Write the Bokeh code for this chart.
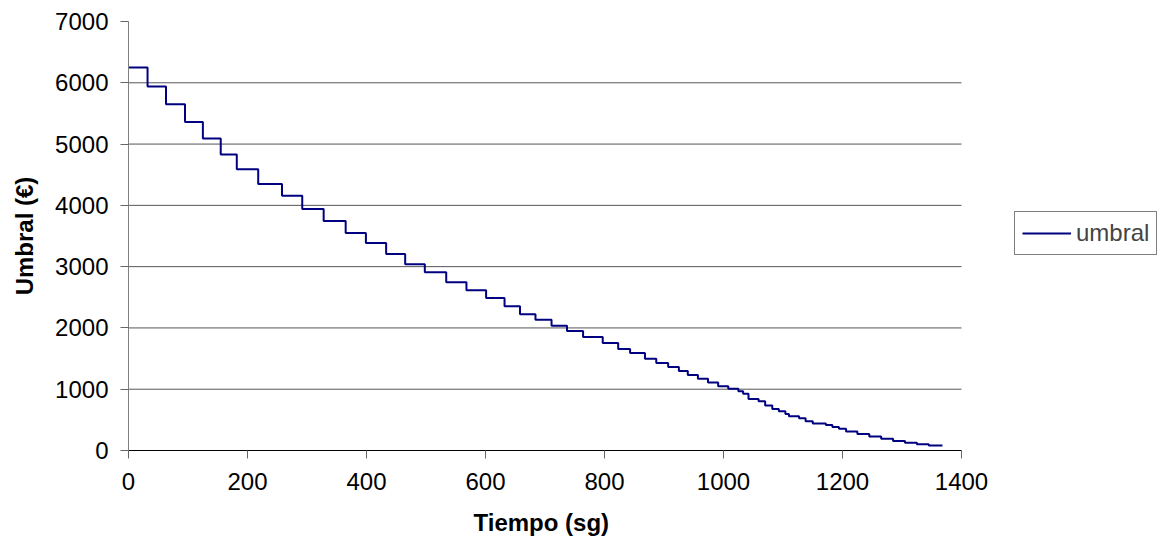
from bokeh.plotting import figure
from bokeh.models import Legend, LegendItem, FixedTicker, Range1d, Title
from bokeh.embed import file_html
from bokeh.resources import INLINE

# Data (step function: value holds from time t until next t)
tiempo = [0, 32, 63, 95, 125, 155, 182, 218, 258, 292,
          328, 365, 399, 433, 465, 498, 534, 568, 601, 632,
          658, 684, 711, 737, 764, 797, 823, 843, 868, 887,
          907, 925, 940, 957, 974, 991, 1008, 1025, 1033, 1042,
          1059, 1070, 1082, 1093, 1104, 1110, 1127, 1138, 1150, 1172,
          1183, 1194, 1206, 1225, 1245, 1265, 1285, 1305, 1325, 1345,
          1368]
umbral = [6250, 5940, 5650, 5360, 5090, 4830, 4590, 4350, 4155, 3940,
          3745, 3550, 3385, 3205, 3040, 2910, 2745, 2615, 2490, 2355,
          2225, 2135, 2035, 1948, 1850, 1753, 1656, 1590, 1498, 1427,
          1362, 1297, 1232, 1170, 1110, 1047, 1009, 965, 928, 841,
          803, 733, 678, 640, 597, 559, 526, 477, 440, 418,
          385, 353, 310, 270, 230, 190, 155, 125, 100, 80,
          80]

x_ticks = [0, 200, 400, 600, 800, 1000, 1200, 1400]
y_ticks = [0, 1000, 2000, 3000, 4000, 5000, 6000, 7000]
grid_ticks = [1000, 2000, 3000, 4000, 5000, 6000]

FONT = "Liberation Sans"
X_MIN, X_MAX = x_ticks[0], x_ticks[-1]
# the frame is extended to the right so that the legend can sit beside the plot
x_view_end = X_MAX * (1161 - 128) / (961 - 128)

p = figure(width=1161, height=549, output_backend="svg", toolbar_location=None,
           x_range=Range1d(X_MIN, x_view_end), y_range=Range1d(0, 7000),
           min_border_left=128, min_border_right=0, min_border_top=21,
           min_border_bottom=98)
p.outline_line_color = None
p.background_fill_color = "white"
p.border_fill_color = "white"

# horizontal gridlines limited to the axis extent
p.xgrid.visible = False
p.ygrid.visible = False
p.segment(x0=[X_MIN] * len(grid_ticks), x1=[X_MAX] * len(grid_ticks),
          y0=grid_ticks, y1=grid_ticks, line_color="#555555", line_width=1)

r = p.step(tiempo, umbral, mode="after", line_color="#000080", line_width=2)

p.xaxis.ticker = FixedTicker(ticks=x_ticks)
p.yaxis.ticker = FixedTicker(ticks=y_ticks)
p.xaxis.bounds = (X_MIN, X_MAX)

for ax in (p.xaxis[0], p.yaxis[0]):
    ax.major_label_text_font = FONT
    ax.major_label_text_font_size = "24px"
    ax.major_label_text_color = "black"
    ax.axis_label_text_font = FONT
    ax.axis_label_text_font_size = "24px"
    ax.axis_label_text_font_style = "bold"
    ax.axis_label_text_color = "black"
    ax.minor_tick_line_color = None
    ax.major_tick_in = 0
    ax.major_tick_out = 8
    ax.major_tick_line_color = "#666666"

p.yaxis.axis_label = "Umbral (€)"
p.xaxis.axis_line_color = "black"
p.yaxis.axis_line_color = "#808080"
p.xaxis.major_label_standoff = 14
p.yaxis.major_label_standoff = 12
p.yaxis.axis_label_standoff = 14

# x-axis title, placed under the middle of the 0..1400 part of the axis
xtitle = Title(text="Tiempo (sg)", align="left", offset=345,
               text_font=FONT, text_font_size="24px", text_font_style="bold",
               text_color="black", standoff=28)
p.add_layout(xtitle, "below")

legend = Legend(items=[LegendItem(label="umbral", renderers=[r])],
                location=(886, 195))
legend.border_line_color = "black"
legend.border_line_width = 1
legend.background_fill_color = "white"
legend.background_fill_alpha = 1
legend.label_text_font = FONT
legend.label_text_font_size = "24px"
legend.glyph_width = 49
legend.glyph_height = 20
legend.padding = 7
legend.margin = 0
legend.spacing = 0
legend.label_standoff = 5
p.add_layout(legend)

open("out.html", "w").write(file_html(p, INLINE))
